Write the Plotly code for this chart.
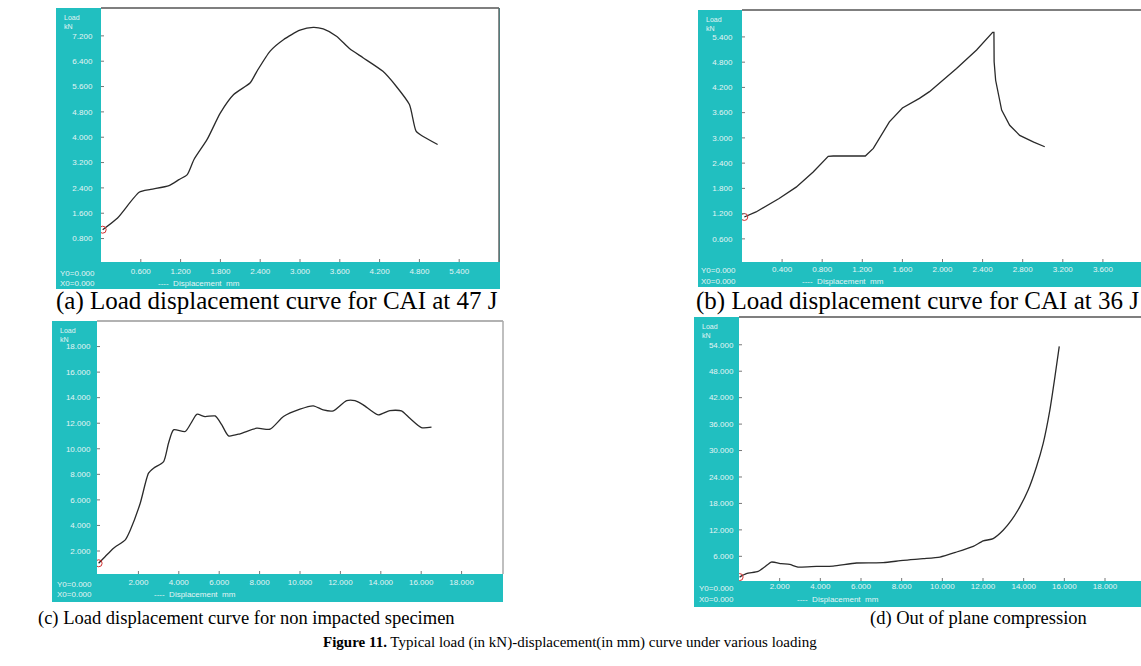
import plotly.graph_objects as go

W, H = 1141, 666

# ---------------- data ----------------
a_x = [0.025, 0.25, 0.575, 0.75, 1.025, 1.175, 1.30, 1.40, 1.60, 1.80, 2.00, 2.25, 2.35, 2.55, 2.75,
       3.00, 3.20, 3.35, 3.55, 3.75, 3.95, 4.25, 4.45, 4.65, 4.75, 4.85, 5.075]
a_y = [1.08, 1.45, 2.26, 2.35, 2.47, 2.66, 2.82, 3.29, 3.93, 4.77, 5.35, 5.72, 6.08, 6.72, 7.08,
       7.38, 7.47, 7.42, 7.19, 6.79, 6.51, 6.08, 5.61, 5.03, 4.19, 4.03, 3.77]

b_x = [0.023, 0.14, 0.37, 0.54, 0.71, 0.86, 0.91, 1.23, 1.31, 1.47, 1.60, 1.77, 1.87, 2.14, 2.34,
       2.50, 2.513, 2.515, 2.53, 2.59, 2.67, 2.77, 2.91, 3.02]
b_y = [1.12, 1.24, 1.56, 1.83, 2.19, 2.56, 2.57, 2.57, 2.75, 3.38, 3.71, 3.94, 4.10, 4.65, 5.09,
       5.51, 5.51, 4.81, 4.37, 3.66, 3.30, 3.06, 2.90, 2.79]

c_x = [0.03, 0.36, 0.77, 1.35, 1.60, 2.09, 2.50, 2.75, 3.25, 3.49, 3.74, 4.32, 4.65, 4.89, 5.30,
       5.80, 6.13, 6.46, 7.03, 7.86, 8.52, 9.18, 10.00, 10.66, 11.15, 11.65, 12.31, 12.72, 13.13,
       13.87, 14.45, 15.02, 15.44, 16.01, 16.51]
c_y = [1.04, 1.57, 2.22, 2.87, 3.65, 5.74, 8.09, 8.48, 9.00, 10.43, 11.48, 11.35, 12.13, 12.70, 12.52,
       12.57, 11.87, 11.01, 11.17, 11.61, 11.53, 12.52, 13.10, 13.36, 13.04, 12.97, 13.77, 13.77, 13.44,
       12.65, 12.99, 12.97, 12.39, 11.66, 11.69]

d_x = [0.03, 0.36, 0.94, 1.26, 1.59, 2.08, 2.49, 2.90, 3.81, 4.63, 5.78, 7.09, 8.07, 9.06, 9.88,
       10.70, 11.52, 12.01, 12.50, 12.99, 13.40, 13.81, 14.22, 14.63, 14.96, 15.29, 15.54, 15.75]
d_y = [1.29, 2.05, 2.58, 3.57, 4.70, 4.32, 4.17, 3.57, 3.72, 3.79, 4.48, 4.55, 5.08, 5.46, 5.84,
       6.98, 8.27, 9.48, 10.02, 11.91, 14.19, 17.22, 21.02, 26.33, 31.64, 39.23, 46.81, 53.64]

a_xticks = [0.6, 1.2, 1.8, 2.4, 3.0, 3.6, 4.2, 4.8, 5.4]
a_yticks = [0.8, 1.6, 2.4, 3.2, 4.0, 4.8, 5.6, 6.4, 7.2]
b_xticks = [0.4, 0.8, 1.2, 1.6, 2.0, 2.4, 2.8, 3.2, 3.6]
b_yticks = [0.6, 1.2, 1.8, 2.4, 3.0, 3.6, 4.2, 4.8, 5.4]
c_xticks = [2, 4, 6, 8, 10, 12, 14, 16, 18]
c_yticks = [2, 4, 6, 8, 10, 12, 14, 16, 18]
d_xticks = [2, 4, 6, 8, 10, 12, 14, 16, 18]
d_yticks = [6, 12, 18, 24, 30, 36, 42, 48, 54]

captions = ["(a) Load displacement curve for CAI at 47 J",
            "(b) Load displacement curve for CAI at 36 J",
            "(c) Load displacement curve for non impacted specimen",
            "(d) Out of plane compression"]
fig_caption = "<b>Figure 11.</b> Typical load (in kN)-displacement(in mm) curve under various loading"

# ---------------- layout helpers ----------------
TEAL = "#21bfc0"
TXT = "#e4f4f4"

def px(x):
    return x / W

def py(y):
    return 1 - y / H

# panel geometry (pixels): plot area, teal frame, label positions
panels = [
    dict(plot=(101, 8, 499, 262), frame=(56, 8, 500, 289), xr=[0, 6.0], yr=[0.06, 8.08],
         x=a_x, y=a_y, xt=a_xticks, yt=a_yticks, shape="spline", ylen=6, xstd=0,
         y0=(58, 273, 284), disp=(156, 284)),
    dict(plot=(742, 10, 1141, 262), frame=(698, 10, 1141, 287), xr=[0, 3.98], yr=[0.05, 6.04],
         x=b_x, y=b_y, xt=b_xticks, yt=b_yticks, shape="linear", ylen=7, xstd=-2,
         y0=(699, 270, 281), disp=(800, 281)),
    dict(plot=(97, 321, 503, 574), frame=(52, 321, 503, 602), xr=[-0.05, 20.05], yr=[0.2, 20.0],
         x=c_x, y=c_y, xt=c_xticks, yt=c_yticks, shape="spline", ylen=4, xstd=-1,
         y0=(55, 584, 594), disp=(152, 594)),
    dict(plot=(739, 317, 1141, 581), frame=(694, 317, 1141, 607), xr=[0, 19.77], yr=[0.4, 60.3],
         x=d_x, y=d_y, xt=d_xticks, yt=d_yticks, shape="spline", ylen=3, xstd=-4,
         y0=(697, 588, 599), disp=(795, 599)),
]

fig = go.Figure()
shapes = []
annotations = []
layout_axes = {}
small8 = dict(family="Liberation Sans", size=8, color=TXT)

for i, p in enumerate(panels, start=1):
    l, t, r, b = p["plot"]
    fl, ft, fr, fb = p["frame"]
    xa = "x" if i == 1 else f"x{i}"
    ya = "y" if i == 1 else f"y{i}"
    fig.add_trace(go.Scatter(x=p["x"], y=p["y"], mode="lines", xaxis=xa, yaxis=ya,
                             line=dict(color="#2a2a2a", width=1.3, shape=p["shape"], smoothing=0.6),
                             showlegend=False, hoverinfo="skip"))
    fig.add_trace(go.Scatter(x=p["x"][:1], y=p["y"][:1], mode="markers", xaxis=xa, yaxis=ya,
                             marker=dict(symbol="circle-open", color="#d03030", size=7, line=dict(width=1)),
                             showlegend=False, hoverinfo="skip"))
    xkey = "xaxis" if i == 1 else f"xaxis{i}"
    ykey = "yaxis" if i == 1 else f"yaxis{i}"
    layout_axes[xkey] = dict(domain=[px(l), px(r)], anchor=ya, range=p["xr"], showgrid=False,
                             zeroline=False, showline=False, tickmode="array", tickvals=p["xt"],
                             ticktext=[f"{v:.3f}" for v in p["xt"]], ticks="outside", ticklen=1,
                             tickcolor=TEAL, ticklabelstandoff=p["xstd"],
                             tickfont=small8, fixedrange=True)
    layout_axes[ykey] = dict(domain=[py(b), py(t)], anchor=xa, range=p["yr"], showgrid=False,
                             zeroline=False, showline=False, tickmode="array", tickvals=p["yt"],
                             ticktext=[f"{v:.3f}" for v in p["yt"]], ticks="outside", ticklen=p["ylen"],
                             tickcolor=TEAL, tickfont=small8, fixedrange=True)
    # teal frame and white plot area
    shapes.append(dict(type="rect", xref="paper", yref="paper", x0=px(fl), x1=px(fr), y0=py(fb), y1=py(ft),
                       fillcolor=TEAL, line=dict(width=0), layer="below"))
    shapes.append(dict(type="rect", xref="paper", yref="paper", x0=px(l), x1=px(r), y0=py(b), y1=py(t),
                       fillcolor="white", line=dict(width=0), layer="below"))
    # small tick marks inside the plot area
    for v in p["xt"]:
        shapes.append(dict(type="line", xref=xa, yref="paper", x0=v, x1=v, y0=py(b), y1=py(b - 3),
                           line=dict(color="#777", width=1)))
    for v in p["yt"]:
        shapes.append(dict(type="line", xref="paper", yref=ya, x0=px(l), x1=px(l + 3), y0=v, y1=v,
                           line=dict(color="#777", width=1)))
    # borders
    shapes.append(dict(type="line", xref="paper", yref="paper", x0=px(l), x1=px(r), y0=py(t), y1=py(t),
                       line=dict(color="#555" if i in (1, 2, 4) else "#999", width=1.5)))
    if i in (1, 3):
        shapes.append(dict(type="line", xref="paper", yref="paper", x0=px(r), x1=px(r), y0=py(b), y1=py(t),
                           line=dict(color="#666" if i == 1 else "#aaa", width=1.5)))
    # small labels inside teal
    annotations.append(dict(x=px(fl + 6), y=py(ft + 4), xref="paper", yref="paper", xanchor="left",
                            yanchor="top", text="Load<br>kN", showarrow=False,
                            font=dict(family="Liberation Sans", size=7, color=TXT), align="left"))
    y0x, y0y, x0y = p["y0"]
    annotations.append(dict(x=px(y0x), y=py(y0y), xref="paper", yref="paper", xanchor="left",
                            yanchor="middle", text="Y0=0.000", showarrow=False, font=small8))
    annotations.append(dict(x=px(y0x), y=py(x0y), xref="paper", yref="paper", xanchor="left",
                            yanchor="middle", text="X0=0.000", showarrow=False, font=small8))
    dx, dy = p["disp"]
    annotations.append(dict(x=px(dx), y=py(dy), xref="paper", yref="paper", xanchor="left",
                            yanchor="middle", text="----  Displacement  mm", showarrow=False, font=small8))

serif = "Liberation Serif"
annotations += [
    dict(x=px(277), y=py(301), xref="paper", yref="paper", xanchor="center", yanchor="middle",
         text=captions[0], showarrow=False, font=dict(family=serif, size=25, color="black")),
    dict(x=px(917), y=py(301), xref="paper", yref="paper", xanchor="center", yanchor="middle",
         text=captions[1], showarrow=False, font=dict(family=serif, size=25, color="black")),
    dict(x=px(246), y=py(618), xref="paper", yref="paper", xanchor="center", yanchor="middle",
         text=captions[2], showarrow=False, font=dict(family=serif, size=18.5, color="black")),
    dict(x=px(978), y=py(618), xref="paper", yref="paper", xanchor="center", yanchor="middle",
         text=captions[3], showarrow=False, font=dict(family=serif, size=18.5, color="black")),
    dict(x=px(570), y=py(642), xref="paper", yref="paper", xanchor="center", yanchor="middle",
         text=fig_caption, showarrow=False, font=dict(family=serif, size=15, color="black")),
]

fig.update_layout(width=W, height=H, margin=dict(l=0, r=0, t=0, b=0),
                  paper_bgcolor="white", plot_bgcolor="rgba(0,0,0,0)",
                  shapes=shapes, annotations=annotations, showlegend=False, **layout_axes)

fig.write_html("out.html", config={"displayModeBar": False},
               post_script="document.body.style.margin='0px';document.body.style.padding='0px';")
